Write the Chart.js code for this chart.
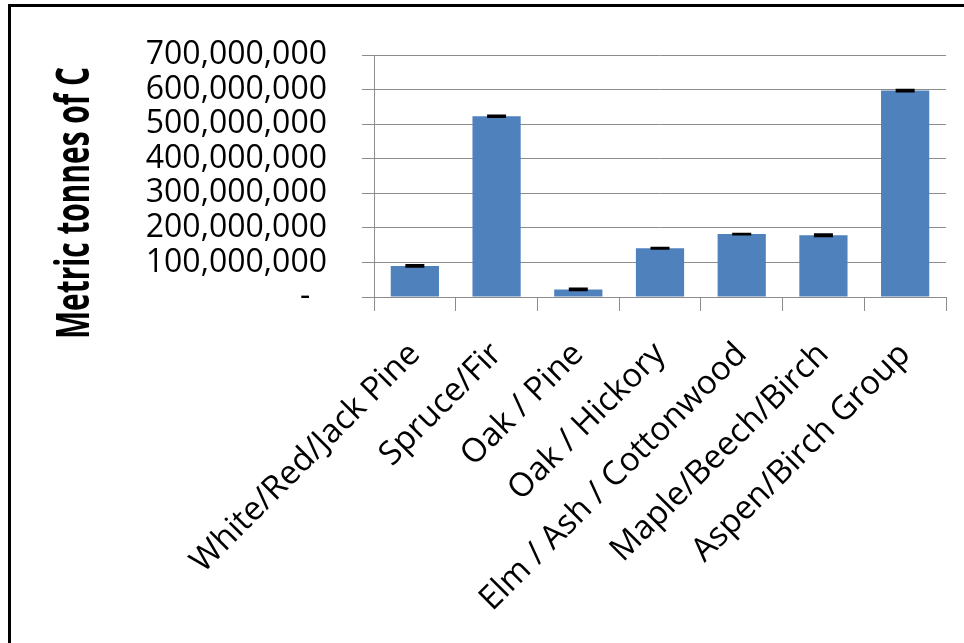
<!DOCTYPE html>
<html lang="en">
<head>
  <meta charset="UTF-8">
  <title>Metric tonnes of C by forest type</title>
  <script src="https://cdn.jsdelivr.net/npm/chart.js"></script>
  <style>
    body { margin: 0; background: #fff; }
    #wrap { position: relative; width: 964px; height: 643px; }
    #frame {
      position: absolute; left: 8px; top: 4px; right: 0; bottom: 0;
      border-left: 3px solid #000; border-top: 3px solid #000;
      pointer-events: none;
    }
  </style>
</head>
<body>
  <div id="wrap">
    <canvas id="grafico" width="964" height="643"></canvas>
    <div id="frame"></div>
  </div>

  <script>
    const forestTypes = ['White/Red/Jack Pine', 'Spruce/Fir', 'Oak / Pine', 'Oak / Hickory',
                         'Elm / Ash / Cottonwood', 'Maple/Beech/Birch', 'Aspen/Birch Group'];
    const carbonTonnes = [90000000, 523000000, 22000000, 141000000, 182000000, 178500000, 597000000];
    const carbonError  = [2000000, 1500000, 2000000, 500000, 500000, 2000000, 1500000];
    const yTicks = [0, 100000000, 200000000, 300000000, 400000000, 500000000, 600000000, 700000000];
    const yTitle = 'Metric tonnes of C';

    const gridGray = '#8c8c8c';

    // error bars drawn from the y scale
    const errorBars = {
      id: 'errorBars',
      afterDatasetsDraw(chart) {
        const ctx = chart.ctx;
        const y = chart.scales.y;
        const meta = chart.getDatasetMeta(0);
        ctx.save();
        ctx.strokeStyle = '#000';
        ctx.lineWidth = 2.5;
        meta.data.forEach((bar, i) => {
          const top = y.getPixelForValue(carbonTonnes[i] + carbonError[i]);
          const bot = y.getPixelForValue(carbonTonnes[i] - carbonError[i]);
          const x = bar.x, half = 9.5;
          ctx.beginPath();
          ctx.moveTo(x, top); ctx.lineTo(x, bot);
          ctx.moveTo(x - half, top); ctx.lineTo(x + half, top);
          ctx.moveTo(x - half, bot); ctx.lineTo(x + half, bot);
          ctx.stroke();
        });
        ctx.restore();
      }
    };

    // condensed rotated axis title
    const axisTitle = {
      id: 'axisTitle',
      afterDraw(chart) {
        const ctx = chart.ctx;
        ctx.save();
        ctx.font = 'bold 46px "Open Sans"';
        ctx.fillStyle = '#000';
        ctx.textAlign = 'center';
        ctx.textBaseline = 'alphabetic';
        const w = ctx.measureText(yTitle).width;
        ctx.translate(89, 203);
        ctx.rotate(-Math.PI / 2);
        ctx.scale(272 / w, 1);
        ctx.fillText(yTitle, 0, 0);
        ctx.restore();
      }
    };

    new Chart(document.getElementById('grafico'), {
      type: 'bar',
      data: {
        labels: forestTypes,
        datasets: [{
          data: carbonTonnes,
          backgroundColor: '#4f81bd',
          borderWidth: 0,
          barPercentage: 0.59,
          categoryPercentage: 1.0
        }]
      },
      options: {
        responsive: false,
        animation: false,
        layout: { padding: { top: 55, right: 18, bottom: 0, left: 0 } },
        plugins: {
          legend: { display: false },
          tooltip: { enabled: false }
        },
        scales: {
          x: {
            afterFit: s => { s.height = 643 - 297; },
            grid: { offset: true, drawOnChartArea: false, color: gridGray, tickLength: 14 },
            border: { color: gridGray },
            ticks: {
              autoSkip: false, minRotation: 45, maxRotation: 45, padding: 24,
              color: '#000', font: { family: 'Open Sans', size: 33 }
            }
          },
          y: {
            min: 0, max: 700000000,
            afterFit: s => { s.width = 374; },
            afterBuildTicks: s => { s.ticks = yTicks.map(v => ({ value: v })); },
            grid: { color: gridGray, tickLength: 12 },
            border: { color: gridGray },
            ticks: {
              autoSkip: false, padding: 35, color: '#000',
              font: { family: 'Open Sans', size: 32 },
              callback: v => v === 0 ? '-  ' : v.toLocaleString('en-US')
            }
          }
        }
      },
      plugins: [errorBars, axisTitle]
    });
  </script>
</body>
</html>
